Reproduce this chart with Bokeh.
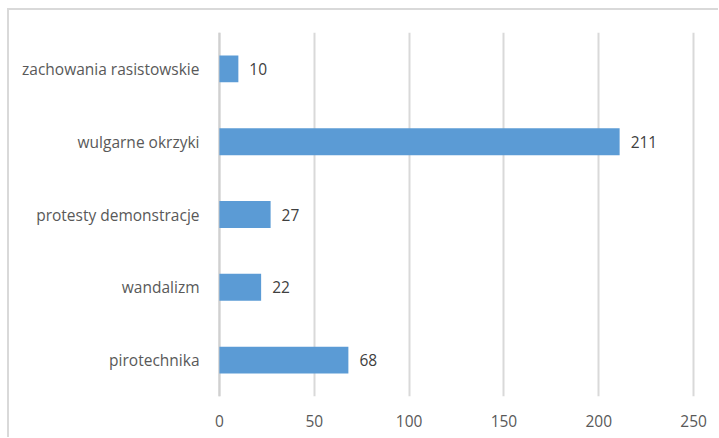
from bokeh.plotting import figure
from bokeh.models import ColumnDataSource, FixedTicker, Range1d, LabelSet, Span
from bokeh.core.properties import value
from bokeh.embed import file_html
from bokeh.resources import INLINE

categories = ["pirotechnika", "wandalizm", "protesty demonstracje", "wulgarne okrzyki", "zachowania rasistowskie"]
values = [68, 22, 27, 211, 10]
x_ticks = [0, 50, 100, 150, 200, 250]

FONT = "Open Sans"
src = ColumnDataSource(dict(cat=categories, val=values, lbl=[str(v) for v in values]))

p = figure(y_range=categories, x_range=Range1d(-1, 251), width=711, height=429,
           output_backend="svg", toolbar_location=None,
           min_border_left=208, min_border_top=22, min_border_right=25, min_border_bottom=43)
p.styles = {"border-left": "2px solid #d9d9d9", "border-top": "2px solid #d9d9d9",
            "margin-left": "7px", "margin-top": "8px"}
p.outline_line_color = None

p.hbar(y="cat", right="val", left=0, height=0.37, source=src, color="#5B9BD5", line_color=None)
p.add_layout(Span(location=x_ticks[0], dimension="height", line_color="#d0d0d0", line_width=2,
                  level="underlay"))

labels = LabelSet(x="val", y="cat", text="lbl", source=src, x_offset=11, y_offset=0,
                  text_baseline="middle", text_font=value(FONT), text_font_size="15.5px",
                  text_color="#404040")
p.add_layout(labels)

p.xaxis.ticker = FixedTicker(ticks=x_ticks)
p.xaxis.axis_line_color = None
p.xaxis.major_tick_line_color = None
p.xaxis.minor_tick_line_color = None
p.xaxis.major_label_text_font = FONT
p.xaxis.major_label_text_font_size = "15.5px"
p.xaxis.major_label_text_color = "#595959"
p.xaxis.major_label_standoff = 12

p.yaxis.axis_line_color = None
p.yaxis.major_tick_line_color = None
p.yaxis.major_label_text_font = FONT
p.yaxis.major_label_text_font_size = "15.5px"
p.yaxis.major_label_text_color = "#595959"
p.yaxis.major_label_standoff = 12

p.xgrid.grid_line_color = "#d9d9d9"
p.xgrid.grid_line_width = 2
p.ygrid.grid_line_color = None

open("out.html", "w").write(file_html(p, INLINE))
